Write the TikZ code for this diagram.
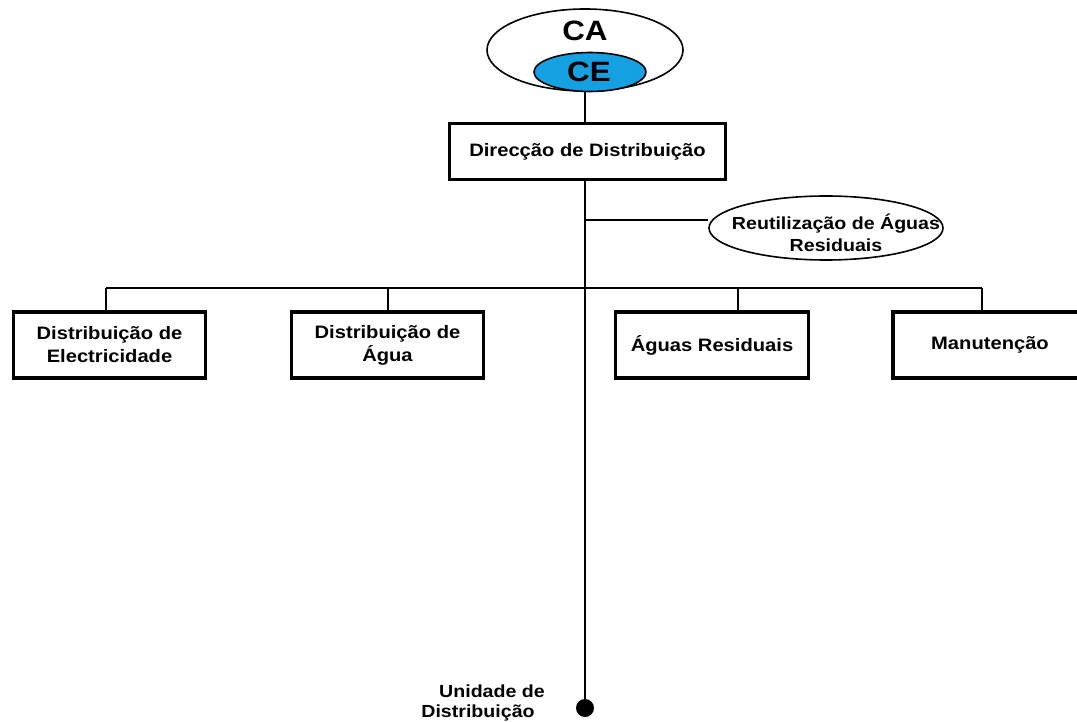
\documentclass[tikz,border=0pt]{standalone}
\usepackage{fontspec}
\setmainfont[FakeStretch=1.12]{Liberation Sans}
\usetikzlibrary{shapes.geometric}
\definecolor{ceblue}{RGB}{20,160,225}
\tikzset{
  unitbox/.style={draw, line width=3.5pt, minimum height=66pt, font=\bfseries\fontsize{18}{23}\selectfont, align=center, inner sep=0pt},
  conn/.style={line width=1.8pt},
  oval/.style={draw, ellipse, line width=1.6pt, inner sep=0pt},
  lbl/.style={font=\bfseries\fontsize{17.5}{22}\selectfont}
}
\begin{document}
\begin{tikzpicture}[x=1pt,y=-1pt]
\useasboundingbox (0,0) rectangle (1077,722);
\node[oval, minimum width=196pt, minimum height=82pt] (ca) at (585,50) {};
\node[font=\bfseries\fontsize{28}{30}\selectfont] (catext) at (585,31) {CA};
\node[oval, fill=ceblue, minimum width=112pt, minimum height=39pt] (ce) at (590,72) {};
\node[font=\bfseries\fontsize{28}{30}\selectfont] (cetext) at (589,72) {CE};
\node[unitbox, minimum width=276pt, minimum height=56pt] (dir) at (587.5,151.5) {Direcção de Distribuição};
\draw[conn] (ca.south) -- (dir.north -| ca.south);
\coordinate (dot) at (585,708);
\draw[conn] (dir.south -| 585,0) -- (dot);
\fill (dot) circle (9pt);
\node[lbl] (unit1) at (492,691) {Unidade de};
\node[lbl] (unit2) at (478,713) {Distribuição};
\node[oval, minimum width=234pt, minimum height=64pt] (reu) at (826,228) {};
\node[lbl, align=center] (reutext) at (836,233) {Reutilização de Águas\\Residuais};
\coordinate (rb) at (585,220);
\draw[conn] (rb) -- (reu.west |- rb);
\coordinate (busL) at (106,288);
\coordinate (busR) at (982,288);
\draw[conn] (busL) -- (busR);
\node[unitbox, minimum width=192pt] (b1) at (109.5,345) {Distribuição de\\Electricidade};
\node[unitbox, minimum width=192pt] (b2) at (387.5,345) {Distribuição de\\Água};
\node[unitbox, minimum width=193pt] (b3) at (712,345) {Águas Residuais};
\node[unitbox, minimum width=194pt] (b4) at (990,345) {Manutenção};
\draw[conn] (busL) -- (busL |- b1.north);
\draw[conn] (388,288) -- (388,0 |- b2.north);
\draw[conn] (738,288) -- (738,0 |- b3.north);
\draw[conn] (busR) -- (busR |- b4.north);
\end{tikzpicture}
\end{document}
